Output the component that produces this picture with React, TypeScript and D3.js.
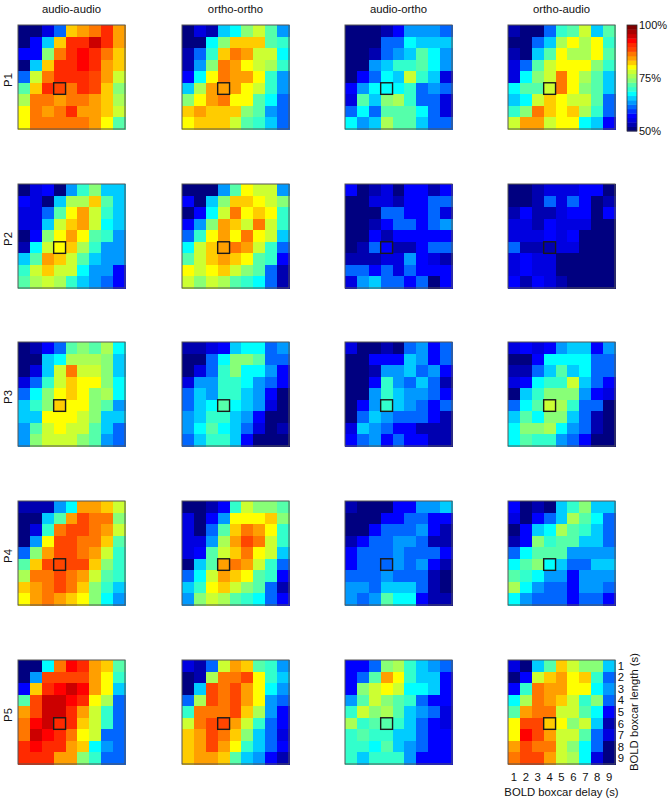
import * as d3 from "d3";

// accuracy in percent, 9 rows (boxcar length) x 9 columns (boxcar delay)
const p1AudioAudio = [
  51,51,55,61,82,84,86,91,84,
  51,57,66,82,91,91,95,91,84,
  57,57,74,87,91,93,91,87,82,
  51,66,82,91,91,93,91,84,82,
  61,78,86,91,91,91,89,84,78,
  72,82,91,89,86,91,89,82,74,
  76,86,86,84,86,86,84,82,76,
  80,86,84,86,91,84,84,82,78,
  80,86,86,86,86,86,84,80,72,
];
const p1OrthoOrtho = [
  51,55,53,66,68,74,78,72,64,
  51,51,68,74,82,82,82,72,70,
  53,61,70,82,87,84,78,78,68,
  53,64,74,86,84,80,78,76,70,
  57,68,80,86,84,84,80,70,64,
  66,76,84,84,84,80,78,70,64,
  74,80,84,86,80,80,72,68,61,
  82,84,82,82,82,74,72,64,61,
  80,82,82,82,78,72,70,66,61,
];
const p1AudioOrtho = [
  51,51,51,53,57,64,64,64,61,
  51,51,51,61,61,68,66,66,66,
  51,51,53,61,64,66,72,68,64,
  51,51,64,66,70,70,72,68,64,
  51,57,61,68,66,78,70,66,55,
  57,64,68,68,68,70,61,64,61,
  55,72,66,74,76,70,61,61,55,
  61,68,61,72,72,72,68,61,55,
  68,64,66,76,72,72,66,61,61,
];
const p1OrthoAudio = [
  53,51,51,61,70,72,78,66,72,
  51,51,61,66,76,80,76,80,70,
  53,51,66,72,80,76,76,80,72,
  55,61,72,78,80,80,80,74,70,
  55,68,74,78,86,80,76,72,66,
  68,72,72,78,86,80,74,72,66,
  66,68,78,82,80,78,78,72,61,
  70,74,87,82,80,82,76,70,61,
  78,84,84,78,80,80,68,66,57,
];
const p2AudioAudio = [
  51,55,57,51,64,70,74,66,66,
  57,55,51,66,76,76,82,72,66,
  55,55,61,72,80,84,78,70,66,
  55,55,66,78,82,84,78,68,66,
  51,57,74,80,84,80,72,70,64,
  53,68,78,80,82,76,70,64,64,
  66,72,84,82,78,72,66,64,64,
  70,78,82,78,78,68,64,64,57,
  72,76,78,76,70,66,64,61,57,
];
const p2OrthoOrtho = [
  51,51,51,64,72,80,78,78,64,
  57,51,66,74,82,82,80,78,74,
  51,57,68,78,87,80,82,80,70,
  57,64,74,84,82,78,87,78,70,
  61,70,80,84,80,87,80,78,66,
  68,78,82,84,87,84,78,70,61,
  72,78,82,84,82,80,72,70,57,
  80,78,80,82,78,74,72,61,53,
  78,74,78,76,72,70,68,61,53,
];
const p2AudioOrtho = [
  57,51,53,55,51,57,57,53,57,
  51,51,55,55,53,57,57,61,61,
  51,51,51,61,61,57,57,61,55,
  51,51,53,57,61,61,57,61,64,
  51,51,57,53,57,57,57,57,57,
  51,53,61,57,53,53,57,61,61,
  53,53,53,55,55,64,57,55,53,
  61,61,57,61,55,61,57,57,57,
  55,64,66,61,61,57,61,51,57,
];
const p2OrthoAudio = [
  51,51,53,55,55,55,57,57,51,
  51,51,53,61,55,61,57,51,53,
  53,57,53,53,55,57,57,51,57,
  55,55,53,57,55,55,55,51,51,
  55,55,55,57,55,57,51,51,51,
  61,53,53,53,55,55,51,51,51,
  55,57,55,55,51,51,51,51,51,
  55,57,55,55,51,51,51,51,51,
  57,53,57,55,53,51,51,51,51,
];
const p3AudioAudio = [
  51,53,57,61,72,74,72,76,68,
  51,51,66,68,76,76,76,74,66,
  51,55,66,78,86,78,78,74,66,
  55,61,70,78,82,80,80,74,68,
  61,68,74,80,82,80,74,76,68,
  66,70,74,82,80,80,74,72,64,
  66,66,80,80,80,78,74,66,66,
  64,72,78,80,78,78,72,66,61,
  64,74,78,78,78,74,72,64,61,
];
const p3OrthoOrtho = [
  53,53,55,57,66,68,68,61,64,
  51,51,61,68,74,74,72,61,61,
  51,55,61,70,74,68,68,64,57,
  55,64,64,70,70,68,64,61,57,
  61,66,64,70,70,66,64,57,51,
  61,66,68,72,68,66,64,55,51,
  64,66,70,70,66,64,57,51,51,
  64,68,72,68,66,61,55,51,53,
  61,66,70,70,66,57,51,51,51,
];
const p3AudioOrtho = [
  55,51,51,53,51,61,64,57,61,
  51,51,57,57,57,66,64,57,61,
  51,51,53,64,64,66,61,64,57,
  51,51,57,70,64,61,66,61,53,
  51,51,64,70,66,64,64,61,57,
  51,57,64,70,66,64,61,57,61,
  51,61,66,64,61,61,61,57,53,
  55,66,64,61,57,57,53,53,53,
  57,61,64,57,61,57,57,53,53,
];
const p3OrthoAudio = [
  55,57,55,57,64,66,66,57,64,
  51,51,57,68,68,68,68,61,61,
  53,53,61,66,72,66,68,61,61,
  55,57,68,70,70,78,66,61,57,
  51,66,70,74,74,74,64,57,55,
  61,68,72,78,76,70,61,61,51,
  66,72,68,74,74,66,61,53,51,
  68,74,74,76,68,64,61,53,51,
  68,72,70,70,64,61,57,51,51,
];
const p4AudioAudio = [
  53,53,53,64,68,84,84,82,78,
  51,51,66,72,84,89,86,86,74,
  51,55,70,87,89,89,86,84,78,
  51,64,80,89,89,87,87,82,72,
  61,74,84,89,89,87,84,78,70,
  72,82,89,89,89,89,82,74,70,
  76,87,87,89,87,84,78,72,70,
  82,84,87,89,87,82,74,70,66,
  80,84,87,84,82,80,74,68,64,
];
const p4OrthoOrtho = [
  51,51,53,57,70,78,74,74,72,
  55,51,57,64,80,80,80,82,74,
  55,51,61,72,82,87,84,80,70,
  55,55,64,76,84,89,87,78,70,
  55,57,72,78,82,87,80,78,66,
  51,66,72,84,87,84,78,70,61,
  61,68,78,84,82,80,72,70,57,
  66,70,80,82,78,74,72,61,53,
  64,74,78,76,72,70,68,61,57,
];
const p4AudioOrtho = [
  53,51,51,51,57,57,64,64,66,
  51,51,51,57,57,61,61,57,57,
  51,51,57,61,61,61,64,57,53,
  53,57,61,61,64,64,61,53,53,
  57,61,61,61,64,61,61,61,57,
  57,61,61,61,64,61,64,57,53,
  61,61,61,64,61,61,61,53,51,
  64,64,61,66,66,66,61,53,51,
  64,61,64,72,68,68,57,53,53,
];
const p4OrthoAudio = [
  57,51,53,51,66,70,74,66,66,
  55,51,57,61,66,76,72,68,61,
  51,57,66,68,76,72,70,66,61,
  53,57,74,70,72,72,66,66,61,
  61,68,72,72,72,64,64,64,64,
  68,72,74,68,66,61,61,66,66,
  72,70,68,64,64,57,64,64,64,
  76,68,64,61,61,57,64,64,61,
  68,64,61,61,61,57,61,61,57,
];
const p5AudioAudio = [
  51,51,68,87,93,91,84,82,72,
  51,64,89,89,89,89,84,80,70,
  57,82,91,93,95,93,84,80,66,
  72,89,95,95,93,91,80,76,61,
  84,89,95,95,91,84,78,70,61,
  87,93,95,91,91,82,78,70,61,
  87,95,93,91,87,80,78,61,61,
  91,93,91,91,84,82,68,64,61,
  91,91,91,84,84,74,70,61,61,
];
const p5OrthoOrtho = [
  55,53,61,78,84,82,72,70,64,
  51,53,76,87,87,89,80,70,66,
  51,66,89,87,89,84,80,68,64,
  61,76,89,87,89,84,80,64,61,
  70,87,87,87,89,82,76,64,57,
  78,87,89,89,84,78,70,61,57,
  82,84,89,86,82,74,66,61,55,
  82,84,89,84,80,70,66,61,57,
  82,84,84,82,72,66,64,57,53,
];
const p5AudioOrtho = [
  57,57,61,74,76,70,66,64,61,
  57,61,72,84,80,70,66,66,57,
  57,74,78,80,78,68,68,66,57,
  64,72,78,74,72,70,61,57,57,
  70,78,74,76,72,66,64,61,55,
  76,70,72,72,70,66,61,57,55,
  70,72,70,70,66,66,61,57,57,
  70,70,68,72,66,64,61,57,57,
  70,66,70,70,70,64,57,57,57,
];
const p5OrthoAudio = [
  55,51,66,72,82,78,74,74,66,
  51,57,78,82,84,80,82,70,61,
  57,70,87,84,84,80,80,68,64,
  68,76,87,84,82,78,70,74,61,
  72,84,87,87,78,78,72,68,57,
  80,89,89,82,80,74,78,66,53,
  80,93,89,84,78,78,72,61,55,
  84,89,87,87,78,74,68,61,51,
  87,89,89,84,78,76,68,55,51,
];

const conditions = ["audio-audio", "ortho-ortho", "audio-ortho", "ortho-audio"];
const participants = ["P1", "P2", "P3", "P4", "P5"];
const grids = [
  [p1AudioAudio, p1OrthoOrtho, p1AudioOrtho, p1OrthoAudio],
  [p2AudioAudio, p2OrthoOrtho, p2AudioOrtho, p2OrthoAudio],
  [p3AudioAudio, p3OrthoOrtho, p3AudioOrtho, p3OrthoAudio],
  [p4AudioAudio, p4OrthoOrtho, p4AudioOrtho, p4OrthoAudio],
  [p5AudioAudio, p5OrthoOrtho, p5AudioOrtho, p5OrthoAudio],
];
const steps = [1, 2, 3, 4, 5, 6, 7, 8, 9];
const colourTicks = [50, 75, 100];
const bestDelay = 4;
const bestLength = 6;

// jet-like, 24 steps, sampled from the colour bar
const jet = [
  "#000080", "#0000b0", "#0000e0", "#0000ff", "#0033ff", "#0066ff",
  "#0099ff", "#00ccff", "#00ffff", "#33ffcc", "#55ffaa", "#88ff77",
  "#aaff55", "#ccff33", "#ffff00", "#ffcc00", "#ff9f00", "#ff7700",
  "#ff4400", "#ff2a00", "#ff0000", "#cc0000", "#aa0000", "#800000",
];

const font = "'Liberation Sans', Arial, sans-serif";
const panelW = 107;
const panelH = 104;

const color = d3.scaleQuantize<string>().domain([50, 100]).range(jet);
const colLeft = d3.scaleOrdinal<string, number>().domain(conditions).range([18, 182, 345, 508]);
const rowTop = d3.scaleOrdinal<string, number>().domain(participants).range([25, 184, 342, 501, 660]);
const x = d3.scaleBand<number>().domain(steps).range([0, panelW]);
const y = d3.scaleBand<number>().domain(steps).range([0, panelH]);
const barY = d3.scaleLinear().domain([50, 100]).range([131, 25]);
const barBands = d3.range(24).map(i => 50 + (i * 50) / 24);

function Panel({ values, left, top }: { values: number[]; left: number; top: number }) {
  return (
    <g transform={`translate(${left},${top})`}>
      <g filter="url(#soften)" shapeRendering="crispEdges">
        {values.map((v, i) => (
          <rect
            key={i}
            x={x(steps[i % 9])}
            y={y(steps[Math.floor(i / 9)])}
            width={x.bandwidth() + 0.5}
            height={y.bandwidth() + 0.5}
            fill={color(v)}
          />
        ))}
      </g>
      <rect width={panelW} height={panelH} fill="none" stroke="#555" strokeWidth={1} />
      <rect
        x={x(bestDelay)}
        y={y(bestLength)}
        width={x.bandwidth()}
        height={y.bandwidth()}
        fill="none"
        stroke="#1a1a1a"
        strokeWidth={1.4}
      />
    </g>
  );
}

export default function App() {
  const lastLeft = colLeft("ortho-audio");
  const lastTop = rowTop("P5");
  return (
    <svg
      width={670}
      height={802}
      style={{ position: "absolute", left: 0, top: 0, background: "#fff" }}
      fontFamily={font}
      fontSize={11.3}
      fill="#111"
    >
      <defs>
        <filter id="soften" x="0" y="0" width="100%" height="100%">
          <feGaussianBlur stdDeviation={0.45} />
        </filter>
      </defs>
      {conditions.map(c => (
        <text key={c} x={colLeft(c) + panelW / 2} y={13} textAnchor="middle">{c}</text>
      ))}
      {participants.map(p => (
        <text
          key={p}
          transform={`translate(11.5,${rowTop(p) + 55}) rotate(-90)`}
          textAnchor="middle"
        >
          {p}
        </text>
      ))}
      {participants.map((p, r) =>
        conditions.map((c, k) => (
          <Panel key={p + c} values={grids[r][k]} left={colLeft(c)} top={rowTop(p)} />
        ))
      )}

      {barBands.map((v, i) => (
        <rect
          key={v}
          x={627}
          y={barY(v + 50 / 24)}
          width={10}
          height={barY(v) - barY(v + 50 / 24) + 0.4}
          fill={color(v + 1)}
        />
      ))}
      <rect x={627} y={barY(100)} width={10} height={barY(50) - barY(100)} fill="none" stroke="#333" strokeWidth={0.8} />
      {colourTicks.map(t => (
        <text key={t} x={639} y={barY(t) + 4} fontSize={11}>{t}%</text>
      ))}

      {steps.map(s => (
        <text key={s} x={lastLeft + x(s) + x.bandwidth() / 2} y={lastTop + 121} textAnchor="middle">{s}</text>
      ))}
      {steps.map(s => (
        <text key={s} x={621} y={lastTop + y(s) + y.bandwidth() / 2 + 4} textAnchor="middle">{s}</text>
      ))}
      <text x={lastLeft + panelW / 2} y={lastTop + 136} textAnchor="middle">BOLD boxcar delay (s)</text>
      <text transform={`translate(638,${lastTop + 52}) rotate(-90)`} textAnchor="middle">BOLD boxcar length (s)</text>
    </svg>
  );
}
